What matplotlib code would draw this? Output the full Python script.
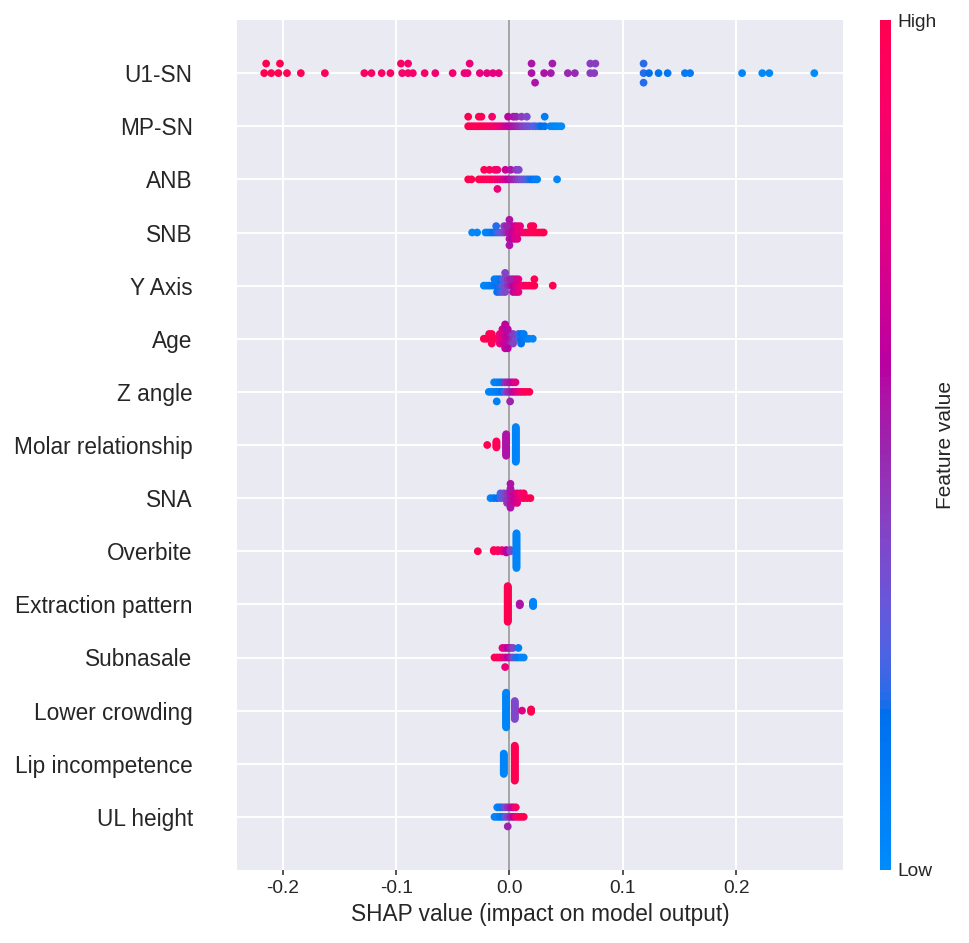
import numpy as np
import matplotlib
matplotlib.use("Agg")
import matplotlib.pyplot as plt
import seaborn as sns
from matplotlib.colors import ListedColormap, Normalize
from matplotlib.cm import ScalarMappable

sns.set_style("darkgrid")
plt.rcParams["font.family"] = ["Liberation Sans", "DejaVu Sans"]
plt.rcParams["axes.unicode_minus"] = False

# ---------------- data ----------------
features = ["U1-SN", "MP-SN", "ANB", "SNB", "Y Axis", "Age", "Z angle",
            "Molar relationship", "SNA", "Overbite", "Extraction pattern",
            "Subnasale", "Lower crowding", "Lip incompetence", "UL height"]

x_ticks = [-0.2, -0.1, 0.0, 0.1, 0.2]
x_tick_labels = ["-0.2", "-0.1", "0.0", "0.1", "0.2"]

u1_sn_shap = [-0.2163, -0.2101, -0.2038, -0.1962, -0.1840, -0.1628, -0.1280, -0.1217, -0.1127, -0.1050,
              -0.0946, -0.0894, -0.0852, -0.0748, -0.0654, -0.0501, -0.0397, -0.0369, -0.0261, -0.0198,
              -0.0146, -0.0094, 0.0195, 0.0306, 0.0365, 0.0515, 0.0577, 0.0713, 0.0748, 0.1183,
              0.1231, 0.1315, 0.1395, 0.1548, 0.1593, 0.2052, 0.2230, 0.2292, 0.2689,
              -0.2146, -0.2024, -0.0957, -0.0894, -0.0351, 0.0195, 0.0379, 0.0713, 0.0758, 0.1183,
              0.0226, 0.1183]
u1_sn_val = [1.0, 1.0, 1.0, 0.98, 0.97, 0.96, 0.92, 0.92, 0.9, 0.9,
             0.88, 0.88, 0.87, 0.87, 0.86, 0.86, 0.82, 0.82, 0.8, 0.78,
             0.78, 0.78, 0.55, 0.55, 0.52, 0.48, 0.48, 0.42, 0.42, 0.2,
             0.18, 0.15, 0.14, 0.12, 0.12, 0.03, 0.02, 0.02, 0.0,
             1.0, 1.0, 0.9, 0.88, 0.8, 0.55, 0.52, 0.42, 0.42, 0.2,
             0.55, 0.2]

mp_sn_shap = [-0.0364, -0.0341, -0.0317, -0.0294, -0.0270, -0.0247, -0.0223, -0.0200, -0.0176, -0.0153,
              -0.0129, -0.0106, -0.0082, -0.0059, -0.0035, -0.0012, 0.0012, 0.0035, 0.0059, 0.0082,
              0.0106, 0.0129, 0.0153, 0.0176, 0.0206, 0.0229, 0.0258, 0.0282, 0.0311, 0.0361,
              0.0385, 0.0408, 0.0432, 0.0458,
              -0.0364, -0.0270, -0.0247, -0.0153, -0.0012, 0.0035, 0.0059, 0.0106, 0.0153, 0.0311]
mp_sn_val = [1.0, 1.0, 1.0, 0.98, 0.98, 0.97, 0.96, 0.95, 0.93, 0.9,
             0.88, 0.85, 0.8, 0.75, 0.7, 0.62, 0.58, 0.55, 0.5, 0.47,
             0.43, 0.4, 0.36, 0.32, 0.28, 0.25, 0.2, 0.17, 0.15, 0.05,
             0.04, 0.03, 0.02, 0.0,
             1.0, 0.98, 0.97, 0.88, 0.6, 0.55, 0.5, 0.42, 0.38, 0.1]

anb_shap = [-0.0364, -0.0335, -0.0270, -0.0247, -0.0223, -0.0200, -0.0176, -0.0153, -0.0129, -0.0106,
            -0.0082, -0.0059, -0.0035, -0.0012, 0.0012, 0.0035, 0.0059, 0.0082, 0.0106, 0.0129,
            0.0153, 0.0176, 0.0200, 0.0223, 0.0244, 0.0420,
            -0.0223, -0.0176, -0.0129, -0.0106, -0.0035, 0.0012, 0.0059, 0.0082,
            -0.0106]
anb_val = [1.0, 1.0, 1.0, 0.98, 0.97, 0.96, 0.95, 0.93, 0.9, 0.85,
           0.8, 0.75, 0.68, 0.6, 0.55, 0.5, 0.45, 0.4, 0.35, 0.3,
           0.25, 0.2, 0.15, 0.1, 0.08, 0.03,
           0.97, 0.95, 0.9, 0.85, 0.65, 0.55, 0.42, 0.38,
           0.82]

snb_shap = [-0.0329, -0.0285, -0.0211, -0.0188, -0.0164, -0.0141, -0.0117, -0.0094, -0.0070, -0.0047,
            -0.0023, 0.0000, 0.0023, 0.0047, 0.0070, 0.0094, 0.0117, 0.0141, 0.0164, 0.0188,
            0.0211, 0.0235, 0.0258, 0.0282, 0.0302,
            -0.0117, -0.0047, 0.0000, 0.0023, 0.0047, 0.0070, 0.0094, 0.0188, 0.0211,
            -0.0023, 0.0000, 0.0023, 0.0047, 0.0070,
            0.0000, 0.0000]
snb_val = [0.02, 0.03, 0.05, 0.08, 0.1, 0.15, 0.2, 0.25, 0.32, 0.4,
           0.48, 0.55, 0.62, 0.7, 0.75, 0.8, 0.85, 0.9, 0.92, 0.95,
           0.97, 0.98, 1.0, 1.0, 1.0,
           0.2, 0.42, 0.55, 0.62, 0.68, 0.75, 0.8, 0.95, 0.97,
           0.5, 0.55, 0.6, 0.7, 0.75,
           0.55, 0.55]

y_axis_shap = [-0.0226, -0.0203, -0.0179, -0.0156, -0.0132, -0.0109, -0.0085, -0.0062, -0.0038, -0.0015,
               0.0009, 0.0032, 0.0056, 0.0079, 0.0103, 0.0126, 0.0150, 0.0173, 0.0197, 0.0220, 0.0382,
               -0.0109, -0.0085, -0.0062, -0.0038, -0.0015, 0.0032, 0.0056, 0.0079, 0.0220,
               -0.0132, -0.0109, -0.0085, -0.0062, -0.0038, 0.0009, 0.0032, 0.0056, 0.0079,
               -0.0038]
y_axis_val = [0.03, 0.05, 0.08, 0.1, 0.12, 0.15, 0.2, 0.28, 0.35, 0.45,
              0.52, 0.6, 0.68, 0.75, 0.82, 0.88, 0.92, 0.95, 0.97, 1.0, 1.0,
              0.12, 0.18, 0.25, 0.35, 0.45, 0.6, 0.68, 0.75, 1.0,
              0.1, 0.15, 0.2, 0.3, 0.38, 0.52, 0.58, 0.7, 0.78,
              0.4]

age_shap = [-0.0226, -0.0203, -0.0179, -0.0156, -0.0132, -0.0109, -0.0085, -0.0062, -0.0038, -0.0015,
            0.0009, 0.0032, 0.0056, 0.0079, 0.0103, 0.0126, 0.0150, 0.0173, 0.0206,
            -0.0179, -0.0156, -0.0085, -0.0062, -0.0038, -0.0015, 0.0009, 0.0032, 0.0079, 0.0103, 0.0126,
            -0.0156, -0.0085, -0.0062, -0.0038, -0.0015, 0.0009, 0.0032, 0.0103,
            -0.0062, -0.0038, -0.0015,
            -0.0038, -0.0015,
            -0.0038]
age_val = [1.0, 1.0, 1.0, 0.98, 0.97, 0.95, 0.85, 0.75, 0.68, 0.62,
           0.55, 0.45, 0.35, 0.25, 0.18, 0.12, 0.08, 0.05, 0.03,
           1.0, 0.98, 0.82, 0.72, 0.66, 0.6, 0.52, 0.42, 0.22, 0.15, 0.1,
           0.97, 0.8, 0.7, 0.65, 0.58, 0.5, 0.4, 0.15,
           0.7, 0.64, 0.58,
           0.62, 0.6,
           0.6]

z_angle_shap = [-0.0182, -0.0159, -0.0135, -0.0112, -0.0088, -0.0065, -0.0041, -0.0018, 0.0006, 0.0029,
                0.0053, 0.0076, 0.0100, 0.0123, 0.0147, 0.0176,
                -0.0135, -0.0112, -0.0088, -0.0065, -0.0041, -0.0018, 0.0006, 0.0029, 0.0053,
                -0.0112, 0.0006]
z_angle_val = [0.03, 0.05, 0.05, 0.08, 0.1, 0.15, 0.3, 0.45, 0.5, 0.58,
               0.68, 0.78, 0.85, 0.92, 0.97, 1.0,
               0.05, 0.08, 0.1, 0.15, 0.45, 0.5, 0.55, 0.65, 0.75,
               0.08, 0.5]

molar_shap = [-0.0196] + [-0.0115] * 6 + [-0.0029] * 19 + [0.0056] * 30
molar_val = [1.0] + [0.97] * 6 + [0.55] * 19 + [0.05] * 30

sna_shap = [-0.0167, -0.0138, -0.0109, -0.0079, -0.0050, -0.0021, 0.0009, 0.0038, 0.0068, 0.0097,
            0.0126, 0.0156, 0.0185,
            -0.0079, -0.0050, -0.0021, 0.0009, 0.0038, 0.0068, 0.0097, 0.0126,
            -0.0021, 0.0009, 0.0038, 0.0068,
            0.0009, 0.0009, 0.0009]
sna_val = [0.05, 0.1, 0.15, 0.25, 0.35, 0.45, 0.55, 0.65, 0.75, 0.85,
           0.9, 0.95, 1.0,
           0.25, 0.35, 0.45, 0.55, 0.65, 0.75, 0.85, 0.9,
           0.45, 0.55, 0.65, 0.75,
           0.55, 0.55, 0.55]

overbite_shap = [-0.0279] + [-0.0138] * 2 + [-0.0103] * 2 + [-0.0066] * 2 + [-0.0028] * 3 + [0.0009] * 2 + [0.0062] * 30
overbite_val = [1.0] + [0.97] * 2 + [0.95] * 2 + [0.85] * 2 + [0.6] * 3 + [0.4] * 2 + [0.05] * 30

extraction_shap = [-0.0015] * 42 + [0.0091] * 3 + [0.0209] * 6
extraction_val = [1.0] * 42 + [0.55] * 3 + [0.05] * 6

subnasale_shap = [-0.0132, -0.0108, -0.0085, -0.0062, -0.0038, -0.0015, 0.0009, 0.0032, 0.0056, 0.0079,
                  0.0103, 0.0126,
                  -0.0062, -0.0038, -0.0015, 0.0009, 0.0032, 0.0079,
                  -0.0038]
subnasale_val = [1.0, 0.97, 0.92, 0.85, 0.75, 0.6, 0.5, 0.35, 0.2, 0.1,
                 0.05, 0.03,
                 0.8, 0.7, 0.6, 0.5, 0.4, 0.1,
                 0.8]

lower_crowding_shap = [-0.0029] * 30 + [0.0047] * 16 + [0.0111] + [0.0191] * 3
lower_crowding_val = [0.05] * 30 + [0.38] * 16 + [0.75] + [1.0] * 3

lip_shap = [-0.0050] * 19 + [0.0047] * 32
lip_val = [0.05] * 19 + [1.0] * 32

ul_height_shap = [-0.0132, -0.0108, -0.0085, -0.0062, -0.0038, -0.0015, 0.0009, 0.0032, 0.0056, 0.0079,
                  0.0103, 0.0126,
                  -0.0108, -0.0085, -0.0062, -0.0038, -0.0015, 0.0009, 0.0032, 0.0056,
                  -0.0015]
ul_height_val = [0.05, 0.05, 0.1, 0.15, 0.25, 0.4, 0.5, 0.6, 0.85, 0.95,
                 1.0, 1.0,
                 0.05, 0.1, 0.2, 0.35, 0.45, 0.55, 0.65, 0.9,
                 0.5]

shap_values = [u1_sn_shap, mp_sn_shap, anb_shap, snb_shap, y_axis_shap, age_shap, z_angle_shap,
               molar_shap, sna_shap, overbite_shap, extraction_shap, subnasale_shap,
               lower_crowding_shap, lip_shap, ul_height_shap]
feature_values = [u1_sn_val, mp_sn_val, anb_val, snb_val, y_axis_val, age_val, z_angle_val,
                  molar_val, sna_val, overbite_val, extraction_val, subnasale_val,
                  lower_crowding_val, lip_val, ul_height_val]


# ---------------- shap "red_blue" colormap (LCH interpolation) ----------------
def lab_to_rgb(L, a, b):
    fy = (L + 16.0) / 116.0
    fx = fy + a / 500.0
    fz = fy - b / 200.0

    def finv(t):
        return t ** 3 if t ** 3 > 0.008856 else (t - 16.0 / 116.0) / 7.787

    X = 0.95047 * finv(fx)
    Y = finv(fy)
    Z = 1.08883 * finv(fz)
    r = 3.2406 * X - 1.5372 * Y - 0.4986 * Z
    g = -0.9689 * X + 1.8758 * Y + 0.0415 * Z
    bl = 0.0557 * X - 0.2040 * Y + 1.0570 * Z

    def gam(c):
        c = max(c, 0.0)
        c = 1.055 * c ** (1 / 2.4) - 0.055 if c > 0.0031308 else 12.92 * c
        return min(max(c, 0.0), 1.0)

    return [gam(r), gam(g), gam(bl)]


blue_lch = [54.0, 70.0, 4.6588]
red_lch = [54.0, 90.0, 0.35470565 + 2 * np.pi]
l_mid = 40.0
nsteps = 100
l_vals = list(np.linspace(blue_lch[0], l_mid, nsteps // 2)) + list(np.linspace(l_mid, red_lch[0], nsteps // 2))
c_vals = np.linspace(blue_lch[1], red_lch[1], nsteps)
h_vals = np.linspace(blue_lch[2], red_lch[2], nsteps)
cols = [lab_to_rgb(l, c * np.cos(h), c * np.sin(h)) for l, c, h in zip(l_vals, c_vals, h_vals)]
red_blue = ListedColormap(cols, name="red_blue")


def swarm_offsets(vals, nbins=100, row_height=0.4):
    vals = np.asarray(vals, dtype=float)
    n = len(vals)
    quant = np.round(nbins * (vals - vals.min()) / (vals.max() - vals.min() + 1e-8))
    inds = np.argsort(quant, kind="stable")
    layer = 0
    last_bin = -1
    ys = np.zeros(n)
    for ind in inds:
        if quant[ind] != last_bin:
            layer = 0
        ys[ind] = np.ceil(layer / 2) * ((layer % 2) * 2 - 1)
        layer += 1
        last_bin = quant[ind]
    ys *= 0.9 * (row_height / np.max(ys + 1))
    return ys


# ---------------- figure ----------------
DPI = 125
fig = plt.figure(figsize=(969 / DPI, 943 / DPI), dpi=DPI)
ax = fig.add_axes([237 / 969, 73 / 943, 606 / 969, 850 / 943])

n = len(features)
norm = Normalize(vmin=0, vmax=1)
ax.axvline(0, color="#999999", lw=1.0, zorder=1)
for i, (name, sv, fv) in enumerate(zip(features, shap_values, feature_values)):
    pos = n - 1 - i
    ys = swarm_offsets(sv)
    ax.scatter(np.asarray(sv), pos + ys, c=np.asarray(fv), cmap=red_blue, norm=norm,
               s=20, linewidths=0, alpha=1, zorder=3)

ax.set_yticks(range(n))
ax.set_yticklabels(features[::-1], fontsize=13)
ax.tick_params(axis="y", length=0, pad=25.5)
ax.set_ylim(-1, n)
ax.set_xlim(-0.2403, 0.2942)
ax.set_xticks(x_ticks)
ax.set_xticklabels(x_tick_labels)
ax.tick_params(axis="x", labelsize=11, bottom=True, length=3, width=1, color="0.25", pad=3)
ax.set_xlabel("SHAP value (impact on model output)", fontsize=13, labelpad=3)
for sp in ax.spines.values():
    sp.set_visible(False)
ax.grid(True, color="white", lw=1.1)

cax = fig.add_axes([880 / 969, 73 / 943, 11 / 969, 850 / 943])
sm = ScalarMappable(cmap=red_blue, norm=norm)
sm.set_array([0, 1])
cb = fig.colorbar(sm, cax=cax, ticks=[0, 1])
cb.set_ticklabels(["Low", "High"])
cb.ax.tick_params(labelsize=11, length=0)
cb.set_label("Feature value", size=12, labelpad=0)
cb.outline.set_visible(False)
cax.grid(False)

fig.savefig("out.png", dpi=DPI)
